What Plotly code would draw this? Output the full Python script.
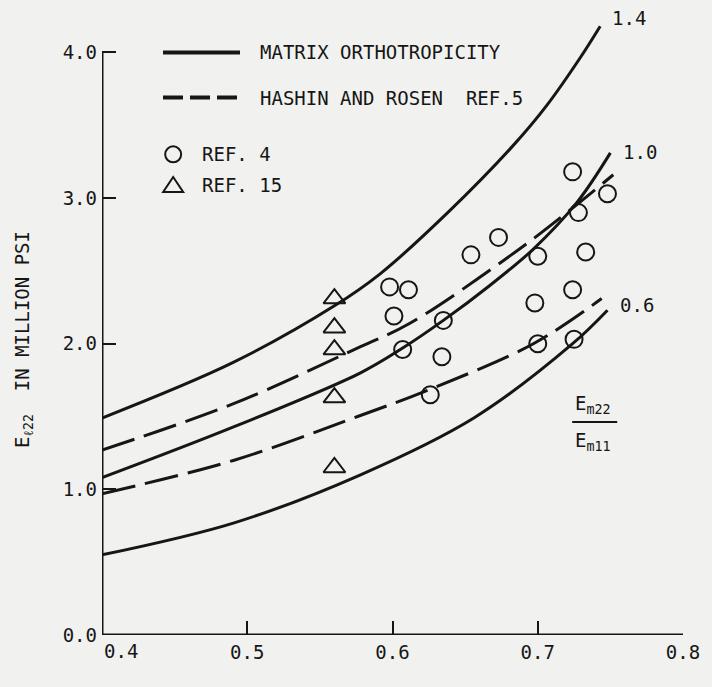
import plotly.graph_objects as go

# ---- data ----
kf_m14 = [0.400, 0.490, 0.560, 0.5915, 0.638, 0.683, 0.7065, 0.729, 0.743]
e_m14 = [1.49, 1.87, 2.26, 2.48, 2.90, 3.36, 3.64, 3.96, 4.18]

kf_m10 = [0.400, 0.491, 0.578, 0.607, 0.635, 0.667, 0.697, 0.727, 0.750]
e_m10 = [1.08, 1.43, 1.80, 1.97, 2.16, 2.40, 2.65, 2.97, 3.31]

kf_m06 = [0.400, 0.491, 0.578, 0.656, 0.724, 0.748]
e_m06 = [0.55, 0.77, 1.10, 1.49, 2.00, 2.23]

kf_h10 = [0.400, 0.491, 0.578, 0.612, 0.686, 0.720, 0.752]
e_h10 = [1.27, 1.59, 1.98, 2.14, 2.64, 2.90, 3.16]

kf_h06 = [0.400, 0.491, 0.576, 0.624, 0.697, 0.744]
e_h06 = [0.97, 1.20, 1.50, 1.68, 2.00, 2.31]

ref4_kf = [0.598, 0.611, 0.601, 0.607, 0.635, 0.634, 0.626, 0.654, 0.673,
           0.700, 0.698, 0.700, 0.724, 0.728, 0.733, 0.724, 0.725, 0.748]
ref4_e = [2.39, 2.37, 2.19, 1.96, 2.16, 1.91, 1.65, 2.61, 2.73,
          2.60, 2.28, 2.00, 3.18, 2.90, 2.63, 2.37, 2.03, 3.03]

ref15_kf = [0.560, 0.560, 0.560, 0.560, 0.560]
ref15_e = [2.31, 2.11, 1.96, 1.63, 1.15]

x_ticks = [0.4, 0.5, 0.6, 0.7, 0.8]
x_ticktext = ["", "0.5", "0.6", "0.7", "0.8"]   # first label drawn offset, as in the original
first_x_label = "0.4"
y_ticks = [0.0, 1.0, 2.0, 3.0, 4.0]
y_ticktext = ["0.0", "1.0", "2.0", "3.0", "4.0"]

curve_labels = ["1.4", "1.0", "0.6"]

INK = "#161616"
BG = "#f1f1ef"
FONT = "DejaVu Sans Mono"
FS = 19

fig = go.Figure()

for xs, ys in [(kf_m14, e_m14), (kf_m10, e_m10), (kf_m06, e_m06)]:
    fig.add_trace(go.Scatter(x=xs, y=ys, mode="lines",
                             line=dict(color=INK, width=3, shape="spline", smoothing=1.0),
                             showlegend=False, hoverinfo="skip"))
for xs, ys in [(kf_h10, e_h10), (kf_h06, e_h06)]:
    fig.add_trace(go.Scatter(x=xs, y=ys, mode="lines",
                             line=dict(color=INK, width=3, shape="spline", smoothing=1.0,
                                       dash="34px,10px"),
                             showlegend=False, hoverinfo="skip"))

fig.add_trace(go.Scatter(x=ref4_kf, y=ref4_e, mode="markers",
                         marker=dict(symbol="circle-open", size=17, color=INK,
                                     line=dict(width=2, color=INK)),
                         showlegend=False, cliponaxis=False))
fig.add_trace(go.Scatter(x=ref15_kf, y=ref15_e, mode="markers",
                         marker=dict(symbol="triangle-up-open", size=19, color=INK,
                                     line=dict(width=2, color=INK)),
                         showlegend=False, cliponaxis=False))

# axis lines (y axis stops at 4.0 like the original)
fig.add_shape(type="line", xref="x", yref="y", x0=0.4, x1=0.4, y0=0, y1=4.0,
              line=dict(color=INK, width=3))
fig.add_shape(type="line", xref="x", yref="y", x0=0.4, x1=0.8, y0=0, y1=0,
              line=dict(color=INK, width=3))

# legend (custom, as in the original drawing)
fig.add_shape(type="line", xref="x", yref="y", x0=0.442, x1=0.495, y0=4.0, y1=4.0,
              line=dict(color=INK, width=4))
fig.add_shape(type="line", xref="x", yref="y", x0=0.442, x1=0.495, y0=3.69, y1=3.69,
              line=dict(color=INK, width=4, dash="20px,7px"))
fig.add_shape(type="circle", xref="x", yref="y", xsizemode="pixel", ysizemode="pixel",
              xanchor=0.449, yanchor=3.30, x0=-8, x1=8, y0=-8, y1=8,
              line=dict(color=INK, width=2))
fig.add_shape(type="path", xref="x", yref="y", xsizemode="pixel", ysizemode="pixel",
              xanchor=0.449, yanchor=3.09, path="M -10 -7 L 10 -7 L 0 8 Z",
              line=dict(color=INK, width=2))

legend_texts = [("MATRIX ORTHOTROPICITY", 4.0), ("HASHIN AND ROSEN\u00a0\u00a0REF.5", 3.69)]
for t, yy in legend_texts:
    fig.add_annotation(x=0.5074, y=yy, xref="x", yref="y", text=t, showarrow=False,
                       xanchor="left", yanchor="middle", font=dict(size=FS, color=INK, family=FONT))
for t, yy in [("REF. 4", 3.30), ("REF. 15", 3.09)]:
    fig.add_annotation(x=0.4675, y=yy, xref="x", yref="y", text=t, showarrow=False,
                       xanchor="left", yanchor="middle", font=dict(size=FS, color=INK, family=FONT))

# curve labels
for t, xx, yy in zip(curve_labels, [0.750, 0.757, 0.755], [4.236, 3.316, 2.266]):
    fig.add_annotation(x=xx, y=yy, xref="x", yref="y", text=t, showarrow=False,
                       xanchor="left", yanchor="middle", font=dict(size=FS, color=INK, family=FONT))

# fraction Em22 / Em11
fig.add_annotation(x=0.738, y=1.58, xref="x", yref="y", text="E<sub>m22</sub>", showarrow=False,
                   xanchor="center", yanchor="middle", font=dict(size=FS, color=INK, family=FONT))
fig.add_shape(type="line", xref="x", yref="y", x0=0.7237, x1=0.7547, y0=1.462, y1=1.462,
              line=dict(color=INK, width=2))
fig.add_annotation(x=0.738, y=1.33, xref="x", yref="y", text="E<sub>m11</sub>", showarrow=False,
                   xanchor="center", yanchor="middle", font=dict(size=FS, color=INK, family=FONT))

# first x tick label, offset right of the axis corner as in the original
fig.add_annotation(x=x_ticks[0], y=0, xref="x", yref="y", text=first_x_label, showarrow=False,
                   xanchor="center", yanchor="middle", xshift=19, yshift=-16,
                   font=dict(size=FS, color=INK, family=FONT))

# axis titles
fig.add_annotation(x=0.7444, y=-0.25, xref="x", yref="y", text="k<sub>f</sub>", showarrow=False,
                   xanchor="center", yanchor="middle", font=dict(size=FS, color=INK, family=FONT))
fig.add_annotation(x=-0.135, y=2.03, xref="paper", yref="y",
                   text="E<sub>\u211322</sub>\u00a0\u00a0IN MILLION PSI", textangle=-90,
                   showarrow=False, xanchor="center", yanchor="middle",
                   font=dict(size=FS, color=INK, family=FONT))

fig.update_layout(
    width=712, height=687,
    margin=dict(l=102, r=29, t=16, b=52),
    paper_bgcolor=BG, plot_bgcolor=BG,
    font=dict(family=FONT, size=FS, color=INK),
    xaxis=dict(range=[0.4, 0.8], tickvals=x_ticks, ticktext=x_ticktext,
               ticks="inside", ticklen=14, tickwidth=2, tickcolor=INK,
               ticklabelstandoff=4,
               showgrid=False, zeroline=False, showline=False,
               tickfont=dict(size=FS, family=FONT, color=INK)),
    yaxis=dict(range=[0, 4.25], tickvals=y_ticks, ticktext=y_ticktext,
               ticks="inside", ticklen=14, tickwidth=2, tickcolor=INK,
               ticklabelstandoff=4,
               showgrid=False, zeroline=False, showline=False,
               tickfont=dict(size=FS, family=FONT, color=INK)),
)

fig.write_html("out.html")
